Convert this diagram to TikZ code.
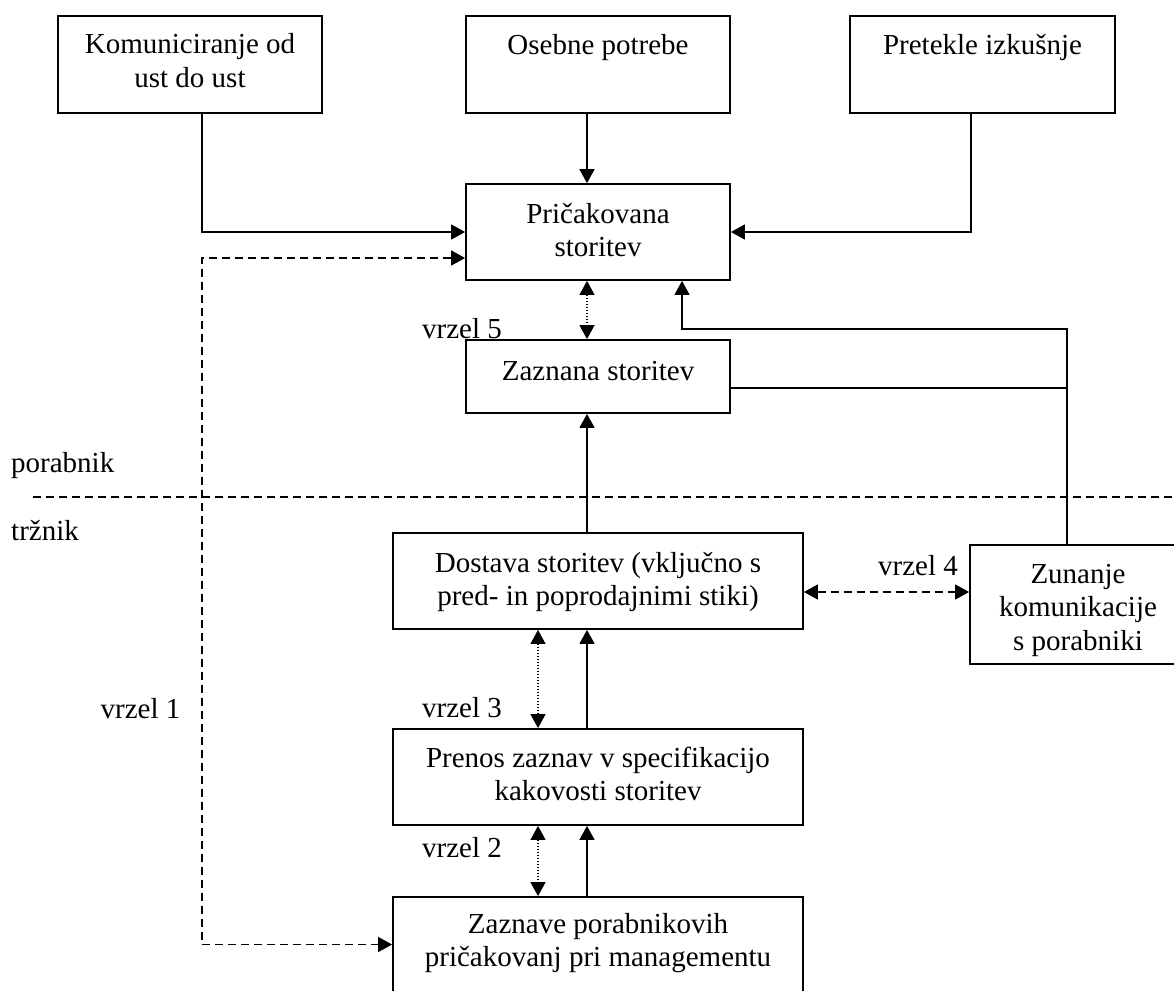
\documentclass[tikz,border=0pt]{standalone}
\usepackage{fontspec}
\setmainfont{Liberation Serif}
\usetikzlibrary{arrows.meta}
\newcommand{\mlines}[1]{\begin{tabular}[t]{@{}c@{}}#1\end{tabular}}
\begin{document}
\begin{tikzpicture}[x=1pt,y=-1pt,
  every node/.style={font=\fontsize{29}{33.5}\selectfont},
  box/.style={draw, line width=1.8pt, rectangle, inner sep=0pt},
  lbl/.style={anchor=base, inner sep=0pt},
  link/.style={line width=1.6pt},
  tip/.tip={Triangle[length=14pt,width=15pt]},
  arr/.style={link, -tip},
  gapdot/.style={line width=1.1pt, dash pattern=on 1.5pt off 1.5pt, tip-tip},
  gapdash/.style={line width=1.5pt, dash pattern=on 8pt off 5pt},
]
% canvas
\path[fill=white] (0,0) rectangle (1174,990);
\useasboundingbox (0,0) rectangle (1174,990);

% boxes
\node[box, minimum width=264pt, minimum height=97pt] (komm)   at (190,64.5)  {};
\node[box, minimum width=264pt, minimum height=97pt] (osebne) at (598,64.5)  {};
\node[box, minimum width=265pt, minimum height=97pt] (pret)   at (982.5,64.5) {};
\node[box, minimum width=264pt, minimum height=96pt] (pric)   at (598,232)   {};
\node[box, minimum width=264pt, minimum height=73pt] (zaz)    at (598,376.5) {};
\node[box, minimum width=410pt, minimum height=96pt] (dost)   at (598,581)   {};
\node[box, minimum width=216pt, minimum height=119pt] (zun)   at (1078,604.5) {};
\node[box, minimum width=410pt, minimum height=96pt] (pren)   at (598,777)   {};
\node[box, minimum width=410pt, minimum height=95pt] (zazv)   at (598,944.5) {};

% box texts
\node[lbl] (komm-t)   at (190,54)   {\mlines{Komuniciranje od\\ust do ust}};
\node[lbl] (osebne-t) at (598,55)   {Osebne potrebe};
\node[lbl] (pret-t)   at (982.5,55) {Pretekle izkušnje};
\node[lbl] (pric-t)   at (598,223)  {\mlines{Pričakovana\\storitev}};
\node[lbl] (zaz-t)    at (598,380)  {Zaznana storitev};
\node[lbl] (dost-t)   at (598,572)  {\mlines{Dostava storitev (vključno s\\pred- in poprodajnimi stiki)}};
\node[lbl] (zun-t)    at (1078,583) {\mlines{Zunanje\\komunikacije\\s porabniki}};
\node[lbl] (pren-t)   at (598,767)  {\mlines{Prenos zaznav v specifikacijo\\kakovosti storitev}};
\node[lbl] (zazv-t)   at (598,933)  {\mlines{Zaznave porabnikovih\\pričakovanj pri managementu}};

% side labels
\node[lbl, anchor=base west] (porabnik) at (11,472) {porabnik};
\node[lbl, anchor=base west] (trznik)   at (11,540) {tržnik};
\node[lbl] (v1) at (140.5,718) {vrzel 1};
\node[lbl] (v2) at (462,857)   {vrzel 2};
\node[lbl] (v3) at (462,717)   {vrzel 3};
\node[lbl] (v4) at (918,575)   {vrzel 4};
\node[lbl] (v5) at (462,338)   {vrzel 5};

% dividing line between consumer and provider
\coordinate (divL) at (33,497);
\coordinate (divR) at (1176,497);
\draw[gapdash] (divL) -- (divR);

% inputs to the expected service
\draw[arr] ([xshift=12pt]komm.south) |- (pric.west);
\draw[arr] ([xshift=-11pt]osebne.south) -- ([xshift=-11pt]pric.north);
\draw[arr] ([xshift=-11.5pt]pret.south) |- (pric.east);

% gap 1
\coordinate (g1top) at (202,258);
\coordinate (g1bot) at (202,944.5);
\draw[gapdash, tip-tip] ([yshift=-26pt]pric.west) -- (g1top) -- (g1bot) -- (zazv.west);

% gap 5
\draw[gapdot] ([xshift=-11pt]pric.south) -- ([xshift=-11pt]zaz.north);

% external communications
\coordinate (c1) at (1067,329);
\coordinate (c2) at (1067,388);
\draw[arr] ([xshift=-11pt]zun.north) -- (c1) -| ([xshift=84pt]pric.south);
\draw[line width=1.2pt] ([yshift=-11.5pt]zaz.east) -- (c2);

% delivery chain
\draw[arr] ([xshift=-11pt]dost.north) -- ([xshift=-11pt]zaz.south);
\draw[gapdash, tip-tip] ([yshift=-11pt]dost.east) -- ([yshift=-11pt]dost.east -| zun.west);
\draw[gapdot] ([xshift=-60pt]dost.south) -- ([xshift=-60pt]pren.north);
\draw[arr] ([xshift=-11pt]pren.north) -- ([xshift=-11pt]dost.south);
\draw[gapdot] ([xshift=-60pt]pren.south) -- ([xshift=-60pt]zazv.north);
\draw[arr] ([xshift=-11pt]zazv.north) -- ([xshift=-11pt]pren.south);
\end{tikzpicture}
\end{document}
